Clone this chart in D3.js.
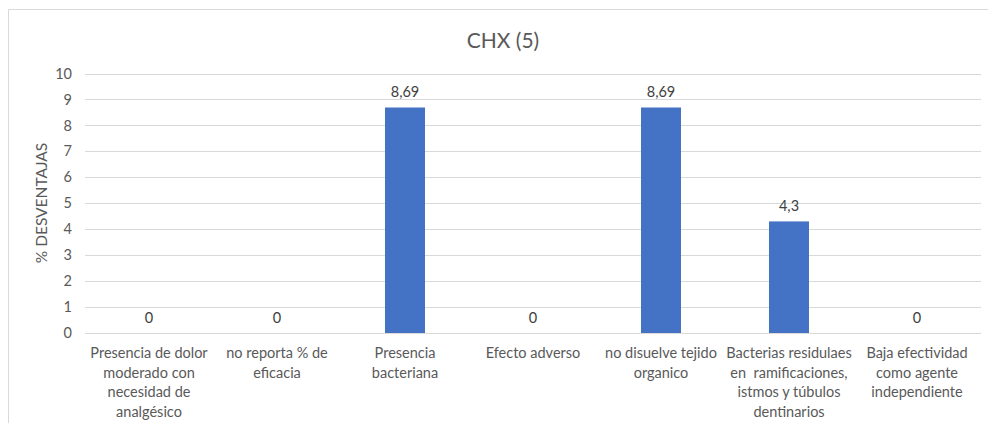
<!DOCTYPE html>
<html>
<head>
<meta charset="utf-8">
<script src="https://cdn.jsdelivr.net/npm/d3@7"></script>
<style>
  html, body { margin: 0; padding: 0; background: #fff; }
  svg { display: block; font-family: Lato, "Open Sans", sans-serif; }
</style>
</head>
<body>
<svg id="chart" width="988" height="423"></svg>
<script>
const title = "CHX (5)";
const yLabel = "% DESVENTAJAS";
const categories = [
  ["Presencia de dolor", "moderado con", "necesidad de", "analgésico"],
  ["no reporta % de", "eficacia"],
  ["Presencia", "bacteriana"],
  ["Efecto adverso"],
  ["no disuelve tejido", "organico"],
  ["Bacterias residulaes", "en  ramificaciones,", "istmos y túbulos", "dentinarios"],
  ["Baja efectividad", "como agente", "independiente"]
];
const values = [0, 0, 8.69, 0, 8.69, 4.3, 0];
const valueLabels = ["0", "0", "8,69", "0", "8,69", "4,3", "0"];
const yTicks = [0, 1, 2, 3, 4, 5, 6, 7, 8, 9, 10];

const svg = d3.select("#chart");
const W = 988, H = 423;
const plot = { left: 85, right: 981, top: 73.5, bottom: 333 };

// chart frame
svg.append("path")
  .attr("d", `M8.5,${H + 2} V9.5 H${W + 2}`)
  .attr("fill", "none").attr("stroke", "#d9d9d9").attr("stroke-width", 1);

const x = d3.scaleBand().domain(d3.range(categories.length))
  .range([plot.left, plot.right]).paddingInner(0.6875).paddingOuter(0.34375);
const y = d3.scaleLinear().domain([0, 10]).range([plot.bottom, plot.top]);

// gridlines
svg.append("g").selectAll("line").data(yTicks).join("line")
  .attr("x1", plot.left).attr("x2", plot.right)
  .attr("y1", d => Math.round(y(d)) + 0.5).attr("y2", d => Math.round(y(d)) + 0.5)
  .attr("stroke", "#d9d9d9").attr("stroke-width", 1);

// y axis ticks via d3 axis
const yAxis = svg.append("g").attr("transform", `translate(${plot.left},0)`)
  .call(d3.axisLeft(y).tickValues(yTicks).tickSize(0).tickPadding(13).tickFormat(d3.format("d")));
yAxis.select(".domain").remove();
yAxis.selectAll("text").attr("fill", "#595959").attr("font-size", 14.5)
  .attr("font-family", "Lato, 'Open Sans', sans-serif");

// bars
svg.append("g").selectAll("rect").data(values).join("rect")
  .attr("x", (d, i) => x(i)).attr("width", x.bandwidth())
  .attr("y", d => y(d)).attr("height", d => y(0) - y(d))
  .attr("fill", "#4472c4");

// value labels
svg.append("g").selectAll("text").data(values).join("text")
  .attr("x", (d, i) => x(i) + x.bandwidth() / 2)
  .attr("y", d => y(d) - 10)
  .attr("text-anchor", "middle").attr("font-size", 14.5).attr("fill", "#404040")
  .text((d, i) => valueLabels[i]);

// x category labels
const xl = svg.append("g").selectAll("text").data(categories).join("text")
  .attr("text-anchor", "middle").attr("font-size", 14.5).attr("fill", "#595959")
  .attr("transform", (d, i) => `translate(${x(i) + x.bandwidth() / 2},358)`);
xl.selectAll("tspan").data(d => d).join("tspan")
  .attr("x", 0).attr("dy", (d, j) => j === 0 ? 0 : 19.5)
  .style("white-space", "pre")
  .text(d => d);

// title
svg.append("text").attr("x", 503).attr("y", 48).attr("text-anchor", "middle")
  .attr("font-size", 21).attr("fill", "#595959").text(title);

// y label
svg.append("text")
  .attr("transform", `translate(47,203) rotate(-90)`)
  .attr("text-anchor", "middle").attr("font-size", 15.5).attr("fill", "#595959")
  .text(yLabel);
</script>
</body>
</html>
